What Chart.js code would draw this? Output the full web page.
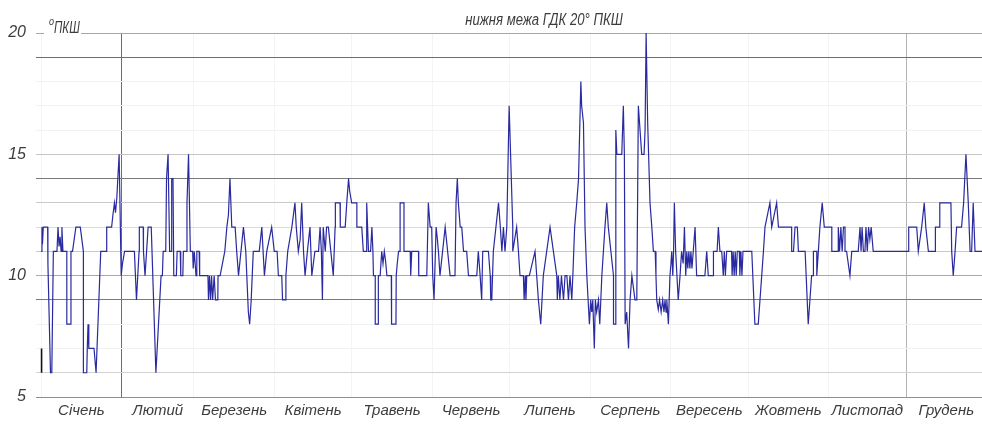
<!DOCTYPE html>
<html>
<head>
<meta charset="utf-8">
<script src="https://cdn.jsdelivr.net/npm/chart.js@4.4.1/dist/chart.umd.min.js"></script>
<style>
  html, body { margin: 0; padding: 0; background: #ffffff; }
  #wrap { width: 982px; height: 424px; }
</style>
</head>
<body>
<div id="wrap"><canvas id="chart" width="982" height="424"></canvas></div>
<script>
// Місяці року та кількість днів у кожному
const months = ['Січень', 'Лютий', 'Березень', 'Квітень', 'Травень', 'Червень',
                'Липень', 'Серпень', 'Вересень', 'Жовтень', 'Листопад', 'Грудень'];
const monthDays = [31, 28, 31, 30, 31, 30, 31, 31, 30, 31, 30, 31];

// Підписи шкали ПКШ
const yTickLabels = [5, 10, 15, 20];

// Добові значення ПКШ: [день року, значення]
const readingsJanApr = [
  [0.0, 11], [0.3, 12], [0.5, 11.3], [0.8, 12], [2.5, 12], [2.6, 10.5], [3.6, 6], [4.1, 6],
  [4.7, 11], [6.1, 11], [6.5, 12], [6.9, 11.2], [7.3, 11.6], [7.7, 11], [8.0, 12], [8.4, 11],
  [9.9, 11], [9.9, 8], [11.5, 8], [11.5, 11], [12.1, 11], [13.4, 12], [15.1, 12], [16.3, 11],
  [16.3, 6], [17.6, 6], [17.8, 7], [18.1, 8], [18.4, 7], [20.4, 7], [21.2, 6], [23.0, 11],
  [25.3, 11], [25.3, 12], [27.2, 12], [27.7, 12.5], [28.3, 13], [28.7, 12.6], [29.2, 13.2],
  [30.1, 15], [30.9, 10], [31.4, 10.5], [32.2, 11], [36.0, 11], [36.8, 9], [37.8, 11],
  [37.9, 12], [39.4, 12], [39.5, 11], [40.1, 10], [41.3, 12], [42.5, 12], [44.3, 6],
  [46.3, 10], [46.8, 10], [47.1, 11], [48.1, 11], [48.4, 14], [49.0, 15], [49.6, 11],
  [50.2, 11], [50.4, 14], [50.9, 14], [51.2, 10], [52.2, 10], [52.5, 11], [53.7, 11],
  [53.9, 10], [54.7, 10], [54.9, 11], [56.0, 11], [56.3, 13], [56.9, 15], [57.6, 11],
  [58.5, 11], [58.7, 10.3], [59.1, 11], [59.8, 10], [60.1, 11], [61.0, 11], [61.2, 10],
  [64.4, 10], [64.6, 9], [65.0, 10], [65.4, 9], [65.8, 10], [66.2, 9], [66.8, 10], [67.3, 9],
  [68.2, 9], [68.3, 10], [69.1, 10], [70.9, 11], [71.7, 12], [72.3, 12.5], [72.9, 14],
  [73.6, 12], [74.9, 12], [75.5, 11], [76.2, 10], [78.1, 12], [79.0, 11], [80.0, 8.5],
  [80.5, 8], [81.1, 9], [81.9, 11], [84.2, 11], [85.2, 12], [86.2, 10], [87.1, 11], [89.0, 12],
  [90.0, 11], [91.1, 11], [91.6, 10], [92.9, 10], [93.2, 9], [94.2, 9], [94.5, 10], [95.2, 11],
  [96.8, 12], [98.0, 13], [98.5, 12], [99.3, 11], [100.0, 11.5], [100.6, 13], [101.3, 11],
  [101.9, 10], [102.8, 11], [103.8, 12], [104.5, 10], [105.7, 11], [107.1, 11], [107.7, 12],
  [108.2, 11], [108.6, 9], [108.9, 12], [109.7, 11], [110.2, 12], [110.9, 12], [112.8, 10],
  [113.5, 12], [113.6, 13], [115.4, 13], [115.5, 12], [117.4, 12], [118.0, 13], [118.7, 14],
  [119.1, 13.5], [119.9, 13]
];
const readingsMayAug = [
  [121.9, 13], [121.9, 12], [123.8, 12], [124.4, 11], [125.5, 11], [125.7, 13], [126.4, 11],
  [127.2, 11], [127.7, 12], [128.1, 11], [128.3, 10], [129.0, 10], [129.0, 8], [130.2, 8],
  [130.2, 10], [130.9, 10], [131.5, 11], [132.0, 10.5], [132.5, 11], [133.0, 10.6], [133.5, 10],
  [135.2, 10], [135.3, 8], [137.0, 8], [137.1, 10], [137.5, 10.5], [138.0, 11], [138.6, 11],
  [138.6, 13], [140.1, 13], [140.1, 11], [142.5, 11], [142.7, 10], [143.1, 11], [145.7, 11],
  [145.8, 10], [148.9, 10], [149.5, 13], [150.2, 12], [150.8, 12], [151.2, 10], [151.7, 9],
  [152.5, 12], [153.0, 11.5], [153.4, 11], [154.0, 10], [156.0, 12], [157.9, 10], [159.8, 10],
  [160.2, 13], [160.7, 14], [161.1, 13], [161.8, 12], [162.4, 12], [163.1, 11], [164.3, 11],
  [165.0, 10], [168.2, 10], [168.8, 11], [169.5, 10], [170.1, 9], [170.5, 11], [172.7, 11],
  [173.4, 10], [173.6, 9], [174.0, 9], [174.6, 11], [176.6, 13], [177.3, 12], [177.9, 11],
  [178.5, 12], [179.1, 11], [179.8, 12], [180.7, 17], [182.1, 12], [182.1, 11], [183.6, 12],
  [184.3, 11], [184.9, 10], [186.2, 10], [186.5, 9], [186.9, 10], [187.2, 9], [187.5, 10],
  [188.5, 10], [190.7, 11], [192.0, 9], [192.9, 8], [193.9, 10], [195.2, 11], [196.5, 12],
  [197.8, 11], [199.1, 10], [199.3, 9], [199.7, 10], [200.3, 9], [200.9, 10], [201.7, 9],
  [202.3, 10], [203.0, 10], [203.6, 9], [204.2, 10], [204.9, 9], [205.3, 10], [206.0, 12],
  [206.8, 13], [207.5, 14], [208.4, 18], [208.7, 17], [209.4, 16.3], [210.0, 12], [210.7, 10],
  [211.7, 8], [212.2, 9], [212.6, 8.5], [213.0, 9], [213.6, 7], [214.0, 9], [214.5, 8.5],
  [215.2, 9], [215.7, 8], [216.5, 10], [217.7, 12], [218.4, 13], [219.0, 12], [221.0, 10],
  [221.0, 8], [221.9, 8], [221.9, 16], [222.3, 15], [224.2, 15], [224.8, 17], [225.2, 15],
  [225.5, 8], [226.1, 8.5], [226.8, 7], [227.4, 9], [228.1, 10], [228.7, 9.5], [229.3, 9],
  [230.0, 9], [230.6, 17], [231.9, 15], [232.8, 15], [233.2, 16], [233.6, 20], [234.2, 16.3],
  [235.1, 13], [235.8, 12], [236.4, 11], [237.1, 11], [237.4, 10], [237.7, 9], [238.3, 8.6],
  [238.8, 9], [239.4, 8.5], [240.0, 9], [240.5, 8.5]
];
const readingsSepDec = [
  [240.9, 9], [241.3, 8.5], [241.6, 9], [242.2, 8], [242.8, 10], [243.2, 10.5], [243.5, 11],
  [243.9, 10], [244.2, 11], [244.5, 13], [245.0, 11], [245.5, 10], [246.0, 9], [246.7, 10],
  [247.3, 11], [247.9, 10.5], [248.4, 12], [248.9, 10], [249.3, 11], [249.7, 10.3], [250.1, 11],
  [250.5, 10.3], [250.9, 11], [251.3, 10.3], [251.8, 11], [252.5, 12], [253.1, 10], [256.3, 10],
  [257.0, 11], [257.6, 10], [259.6, 10], [259.6, 11], [261.0, 11], [261.5, 12], [262.1, 11],
  [262.8, 11], [263.4, 10], [263.8, 11], [264.2, 10], [264.7, 11], [266.6, 11], [266.8, 10],
  [267.2, 11], [267.6, 10], [268.0, 11], [268.4, 10], [268.8, 11], [269.6, 11], [269.8, 10],
  [270.2, 11], [270.6, 10], [271.0, 11], [274.4, 11], [275.6, 8], [276.9, 8], [278.9, 11],
  [279.5, 12], [281.4, 13], [282.1, 12], [284.0, 13], [284.7, 12], [289.8, 12], [289.8, 11],
  [290.5, 11], [291.1, 12], [292.0, 12], [292.4, 11], [295.0, 11], [296.2, 8], [297.5, 10],
  [298.2, 10], [298.2, 11], [299.5, 11], [299.5, 10], [300.1, 11], [300.7, 12], [301.6, 13],
  [302.4, 12], [305.3, 12], [305.3, 11], [307.8, 11], [307.8, 12], [308.3, 11], [308.8, 12],
  [309.3, 11], [309.8, 12], [310.4, 12], [310.4, 11], [311.0, 11], [312.3, 10], [313.0, 11],
  [315.5, 11], [316.2, 12], [316.6, 11], [317.0, 12], [317.5, 11], [318.1, 11], [318.5, 12],
  [319.0, 11], [319.5, 12], [320.0, 11.5], [320.5, 12], [321.3, 11], [334.9, 11], [335.0, 12],
  [338.1, 12], [338.7, 11], [340.0, 12], [341.0, 13], [341.6, 12], [342.6, 11], [345.2, 11],
  [345.3, 12], [346.9, 12], [347.0, 13], [351.3, 13], [351.6, 11], [352.2, 10], [352.9, 11],
  [353.5, 12], [355.4, 12], [356.2, 13], [357.1, 15], [358.0, 13], [358.7, 11], [359.3, 11],
  [359.9, 13], [360.6, 11], [363.3, 11]
];

// Коротка позначка біля початку осі
const startMark = [[0.15, 6], [0.15, 7]];

// Межі місяців і центри підписів (день року)
const monthStarts = [0];
monthDays.forEach(n => monthStarts.push(monthStarts[monthStarts.length - 1] + n));
const monthCenters = months.map((m, i) => (monthStarts[i] + monthStarts[i + 1]) / 2);

const allReadings = readingsJanApr.concat(readingsMayAug, readingsSepDec);
const tracePoints = allReadings.map(([d, v]) => ({ x: d, y: v }));
const markPoints = startMark.map(([d, v]) => ({ x: d, y: v }));

const X_MIN = -2, X_MAX = 363.3;
const FONT = "'Liberation Sans Narrow', 'Liberation Sans', sans-serif";

const boundarySet = new Set(monthStarts.filter(d => d >= X_MIN && d <= X_MAX));
const xTickValues = Array.from(boundarySet).concat(monthCenters).sort((a, b) => a - b);

function xGridColor(value) {
  if (!boundarySet.has(value)) return 'rgba(0,0,0,0)';
  if (value === 31) return '#6e6e6e';
  if (value === 334) return '#b4b4b4';
  return '#f4f4f4';
}

const yGridColors = {
  20: '#a6a6a6', 19: '#6e6e6e', 18: '#f2f2f2', 17: '#f2f2f2', 16: '#f2f2f2',
  15: '#c6c6c6', 14: '#7a7a7a', 13: '#c9c9c9', 12: '#dcdcdc', 11: '#c9c9c9',
  10: '#a8a8a8', 9: '#7a7a7a', 8: '#f2f2f2', 7: '#f2f2f2', 6: '#d2d2d2', 5: '#8e8e8e'
};

// Заголовок і одиниця вимірювання (вузьке накреслення)
function narrowText(c, text, x, y, size, squeeze, align) {
  c.save();
  c.font = 'italic ' + size + 'px ' + FONT;
  const w = c.measureText(text).width * squeeze;
  const left = align === 'center' ? x - w / 2 : x;
  c.translate(left, y);
  c.scale(squeeze, 1);
  c.textAlign = 'left';
  c.fillText(text, 0, 0);
  c.restore();
}

const captionPlugin = {
  id: 'captions',
  afterDraw(chart) {
    const c = chart.ctx;
    const area = chart.chartArea;
    const y20 = chart.scales.y.getPixelForValue(20);
    c.save();
    c.fillStyle = '#ffffff';
    c.fillRect(area.left + 8, y20 - 16, 37, 18);
    c.fillStyle = '#3c3c3c';
    c.textBaseline = 'alphabetic';
    narrowText(c, 'ПКШ', area.left + 18, y20, 16, 0.72, 'left');
    narrowText(c, 'o', area.left + 13, y20 - 8, 10, 0.9, 'left');
    narrowText(c, 'нижня межа ГДК 20° ПКШ', 544, 25, 16, 0.82, 'center');
    c.restore();
  }
};

new Chart(document.getElementById('chart').getContext('2d'), {
  type: 'line',
  data: {
    datasets: [
      {
        data: tracePoints,
        borderColor: '#2a2aa0',
        borderWidth: 1.2,
        pointRadius: 0,
        tension: 0,
        fill: false
      },
      {
        data: markPoints,
        borderColor: '#111111',
        borderWidth: 1.6,
        pointRadius: 0,
        fill: false
      }
    ]
  },
  options: {
    responsive: false,
    animation: false,
    devicePixelRatio: 1,
    layout: { padding: { top: 33, right: 0, bottom: 0, left: 0 } },
    plugins: {
      legend: { display: false },
      tooltip: { enabled: false },
      title: { display: false }
    },
    scales: {
      x: {
        type: 'linear',
        min: X_MIN,
        max: X_MAX,
        border: { display: false },
        afterBuildTicks: scale => { scale.ticks = xTickValues.map(v => ({ value: v })); },
        afterFit: scale => { scale.height = 27; },
        ticks: {
          autoSkip: false,
          maxRotation: 0,
          padding: 5,
          color: '#3c3c3c',
          font: { family: FONT, size: 15, style: 'italic' },
          callback: value => {
            const i = monthCenters.indexOf(value);
            return i >= 0 ? months[i] : '';
          }
        },
        grid: {
          drawTicks: false,
          lineWidth: 1,
          color: ctx => xGridColor(ctx.tick ? ctx.tick.value : null)
        }
      },
      y: {
        min: 5,
        max: 20,
        border: { display: false },
        afterFit: scale => { scale.width = 36; },
        ticks: {
          stepSize: 1,
          padding: 10,
          color: '#3c3c3c',
          font: { family: FONT, size: 16, style: 'italic' },
          callback: value => yTickLabels.includes(value) ? String(value) : ''
        },
        grid: {
          drawTicks: false,
          lineWidth: 1,
          color: ctx => (ctx.tick && yGridColors[ctx.tick.value]) || '#f2f2f2'
        }
      }
    }
  },
  plugins: [captionPlugin]
});
</script>
</body>
</html>
